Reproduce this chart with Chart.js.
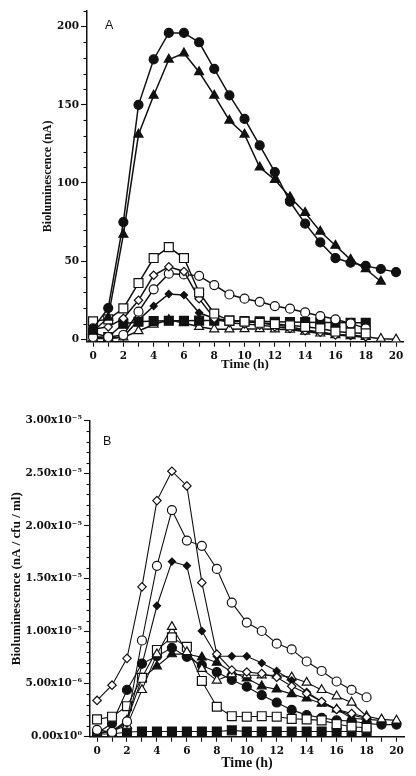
<!DOCTYPE html>
<html>
<head>
<meta charset="utf-8">
<script src="https://cdn.jsdelivr.net/npm/chart.js@4.4.0/dist/chart.umd.min.js"></script>
<style>
  html, body { margin: 0; padding: 0; background: #fff; }
  body { width: 416px; height: 776px; position: relative; overflow: hidden; }
  canvas { position: absolute; left: 0; }
  #chartA { top: 0; }
  #chartB { top: 388px; }
</style>
</head>
<body>
<canvas id="chartA" width="416" height="388"></canvas>
<canvas id="chartB" width="416" height="388"></canvas>
<script>
// time points (h)
const hours = [0, 1, 2, 3, 4, 5, 6, 7, 8, 9, 10, 11, 12, 13, 14, 15, 16, 17, 18, 19, 20];

// panel A, bioluminescence (nA)
const aCircleFilled = [7, 20, 75, 150, 179, 196, 196, 190, 173, 156, 141, 124, 107, 88, 74, 62, 52, 49, 47, 45, 43];
const aTriangleFilled = [5, 14, 67, 131, 156, 179, 183, 171, 156, 140, 131, 110, 102, 91, 81, 69, 60, 51, 45, 37];
const aSquareOpen = [11.5, 12.8, 19.8, 36, 52, 59, 52, 30, 16.5, 12, 11.3, 10.6, 9.8, 9, 8, 7, 5, 4.3, 3.8];
const aDiamondOpen = [6.5, 8, 13.4, 25, 41, 46.4, 43.4, 26, 13.4, 10.6, 9.8, 9.1, 8, 7, 5.5, 4.5, 2.8, 2.8, 1.7];
const aCircleOpen = [1.5, 1.5, 2.8, 17.7, 32, 42, 41.5, 40.6, 34.7, 28.7, 26, 24, 21.3, 19.6, 17.2, 14.9, 12.8, 10.2, 7];
const aDiamondFilled = [1.5, 0.6, 1.7, 12.3, 21.3, 29, 28.3, 17, 13.4, 12, 11.3, 10.6, 9.1, 8, 6, 4.5, 3.2, 2.1, 1.3];
const aSquareFilled = [4, 1.5, 10, 11.3, 11.7, 11.9, 11.9, 12, 12, 12, 11.7, 11.5, 11.3, 11.1, 11, 10.8, 10.8, 10.6, 10.6];
const aTriangleOpen = [0.6, 0.6, 1.3, 5.3, 9.5, 12.5, 10.5, 8, 6.5, 6.4, 6.6, 6.6, 6.4, 6.2, 5, 3.8, 2.8, 2.1, 1.7, 0.4, 0];

// panel B, bioluminescence (nA / cfu / ml), in units of 1e-6
const bCircleOpen = [0.6, 0.4, 1.4, 9.1, 16.2, 21.5, 18.6, 18.1, 15.9, 12.7, 10.8, 10.0, 8.8, 8.25, 7.1, 6.2, 5.2, 4.4, 3.7];
const bDiamondOpen = [3.4, 4.85, 7.4, 14.2, 22.4, 25.2, 23.8, 14.6, 7.8, 6.3, 6.1, 5.95, 5.6, 4.75, 4.05, 3.3, 2.55, 2.15, 1.8];
const bDiamondFilled = [0.3, 0.5, 1.2, 6.8, 12.4, 16.6, 16.2, 10.0, 7.6, 7.6, 7.6, 6.95, 6.2, 5.3, 4.2, 3.3, 2.5, 2.0, 1.7];
const bTriangleOpen = [0.3, 0.5, 1.0, 4.4, 7.8, 10.4, 8.0, 6.4, 5.3, 5.9, 5.8, 5.8, 5.8, 5.6, 5.1, 4.4, 3.8, 3.2, 1.9, 1.6, 1.5];
const bSquareOpen = [1.6, 1.85, 2.85, 5.55, 8.2, 9.4, 8.5, 5.25, 2.8, 1.9, 1.85, 1.9, 1.85, 1.65, 1.6, 1.5, 1.15, 0.9, 0.8];
const bCircleFilled = [0.3, 1.2, 4.4, 6.9, 7.6, 8.4, 7.55, 6.75, 6.1, 5.35, 4.7, 3.9, 3.2, 2.5, 2.0, 1.75, 1.5, 1.45, 1.2, 1.1, 1.1];
const bTriangleFilled = [0.2, 0.5, 1.5, 5.5, 6.65, 7.8, 7.8, 7.5, 7.0, 6.1, 5.5, 4.75, 4.45, 4.0, 3.6, 3.1, 2.55, 1.7, 1.6, 1.5];
const bSquareFilled = [0.2, 0.2, 0.4, 0.45, 0.45, 0.45, 0.45, 0.45, 0.45, 0.55, 0.45, 0.45, 0.45, 0.45, 0.45, 0.45, 0.45, 0.45, 0.45];

// ticks
const xTicks = [0, 1, 2, 3, 4, 5, 6, 7, 8, 9, 10, 11, 12, 13, 14, 15, 16, 17, 18, 19, 20];
const xLabels = ['0', '', '2', '', '4', '', '6', '', '8', '', '10', '', '12', '', '14', '', '16', '', '18', '', '20'];
const yTicksA = [0, 50, 100, 150, 200];
const yLabelsA = ['0', '50', '100', '150', '200'];
const yTicksB = [0, 5, 10, 15, 20, 25, 30];
const yLabelsB = ['0.00x10\u2070', '5.00x10\u207B\u2076', '1.00x10\u207B\u2075', '1.50x10\u207B\u2075',
                  '2.00x10\u207B\u2075', '2.50x10\u207B\u2075', '3.00x10\u207B\u2075'];

const INK = '#111';
const shapes = {
  circle: {style: 'circle', r: 4.5},
  triangle: {style: 'triangle', r: 5.2},
  square: {style: 'rect', r: 6.3},
  diamond: {style: 'rectRot', r: 4.2},
  smallDiamond: {style: 'rectRot', r: 3.6}
};

function series(values, shape, filled, lineWidth) {
  const s = shapes[shape];
  return {
    data: values.map((v, i) => ({x: hours[i], y: v})),
    borderColor: INK,
    borderWidth: lineWidth,
    pointStyle: s.style,
    pointRadius: s.r,
    pointBorderColor: INK,
    pointBorderWidth: 1.2,
    pointBackgroundColor: filled ? INK : '#fff',
    tension: 0
  };
}

// short outward minor ticks and the panel letter
const extras = {
  id: 'extras',
  afterDraw(chart, args, opts) {
    const ctx = chart.ctx;
    const x = chart.scales.x, y = chart.scales.y;
    ctx.save();
    ctx.strokeStyle = INK;
    ctx.lineWidth = 1.1;
    opts.minorY.forEach(v => {
      const py = Math.round(y.getPixelForValue(v)) + 0.5;
      ctx.beginPath();
      ctx.moveTo(y.right - 3.5, py);
      ctx.lineTo(y.right, py);
      ctx.stroke();
    });
    ctx.fillStyle = INK;
    ctx.font = '12.5px "Liberation Sans"';
    ctx.textAlign = 'center';
    ctx.textBaseline = 'middle';
    ctx.fillText(opts.letter, x.getPixelForValue(opts.letterAt[0]), y.getPixelForValue(opts.letterAt[1]));
    ctx.restore();
  }
};

function axisTitle(text, size, padding) {
  return {display: true, text: text, color: INK, padding: padding,
          font: {family: 'Liberation Serif', weight: 'bold', size: size}};
}
const tickFont = {family: 'DejaVu Serif', weight: 'bold', size: 10.5};

function makeChart(id, cfg) {
  return new Chart(document.getElementById(id), {
    type: 'line',
    data: {datasets: cfg.datasets},
    options: {
      responsive: false,
      animation: false,
      layout: {padding: cfg.padding},
      plugins: {
        legend: {display: false},
        tooltip: {enabled: false},
        extras: cfg.extras
      },
      scales: {
        x: {
          type: 'linear',
          min: cfg.xMin, max: cfg.xMax,
          afterFit: s => { s.height = cfg.xHeight; },
          afterBuildTicks: s => { s.ticks = xTicks.map(v => ({value: v})); },
          border: {color: INK, width: 1.5},
          grid: {drawOnChartArea: false, tickLength: 5, tickColor: INK, tickWidth: 1.1},
          ticks: {font: tickFont, color: INK, padding: 3, maxRotation: 0, autoSkip: false,
                  callback: (v, i) => xLabels[i]},
          title: axisTitle('Time (h)', cfg.xTitleSize, {top: 0, bottom: cfg.xTitlePad})
        },
        y: {
          min: cfg.yMin, max: cfg.yMax,
          afterFit: s => { s.width = cfg.yWidth; },
          afterBuildTicks: s => { s.ticks = cfg.yTicks.map(v => ({value: v})); },
          border: {color: INK, width: 1.5},
          grid: {drawOnChartArea: false, tickLength: 6, tickColor: INK, tickWidth: 1.1},
          ticks: {font: tickFont, color: INK, padding: 2, autoSkip: false,
                  callback: (v, i) => cfg.yLabels[i]},
          title: axisTitle(cfg.yTitle, cfg.yTitleSize, {top: 0, bottom: 0})
        }
      }
    },
    plugins: [extras]
  });
}

const minorA = [];
for (let v = 10; v <= 210; v += 10) if (v % 50 !== 0) minorA.push(v);
const minorB = [];
for (let v = 1; v <= 30; v += 1) if (v % 5 !== 0) minorB.push(v);

makeChart('chartA', {
  datasets: [
    series(aCircleFilled, 'circle', true, 1.5),
    series(aTriangleFilled, 'triangle', true, 1.5),
    series(aSquareOpen, 'square', false, 1.5),
    series(aDiamondOpen, 'diamond', false, 1.5),
    series(aCircleOpen, 'circle', false, 1.5),
    series(aDiamondFilled, 'smallDiamond', true, 1.5),
    series(aSquareFilled, 'square', true, 1.5),
    series(aTriangleOpen, 'triangle', false, 1.5)
  ],
  padding: {left: 40.8, right: 13, top: 11, bottom: 0},
  xMin: -0.4, xMax: 20.46, xHeight: 46.3, xTitleSize: 13, xTitlePad: 16,
  yMin: -1.5, yMax: 210, yWidth: 46.2, yTicks: yTicksA, yLabels: yLabelsA,
  yTitle: 'Bioluminescence (nA)', yTitleSize: 12,
  extras: {minorY: minorA, letter: 'A', letterAt: [1.06, 200.7]}
});

makeChart('chartB', {
  datasets: [
    series(bDiamondOpen, 'diamond', false, 1.1),
    series(bCircleOpen, 'circle', false, 1.1),
    series(bDiamondFilled, 'smallDiamond', true, 1.1),
    series(bTriangleOpen, 'triangle', false, 1.1),
    series(bSquareOpen, 'square', false, 1.1),
    series(bCircleFilled, 'circle', true, 1.1),
    series(bTriangleFilled, 'triangle', true, 1.1),
    series(bSquareFilled, 'square', true, 1.1)
  ],
  padding: {left: 9.2, right: 12, top: 32.7, bottom: 0},
  xMin: -0.47, xMax: 20.5, xHeight: 39.3, xTitleSize: 14, xTitlePad: 4.6,
  yMin: -0.05, yMax: 30, yWidth: 80.8, yTicks: yTicksB, yLabels: yLabelsB,
  yTitle: 'Bioluminescence (nA / cfu / ml)', yTitleSize: 13,
  extras: {minorY: minorB, letter: 'B', letterAt: [0.67, 28]}
});
</script>
</body>
</html>
